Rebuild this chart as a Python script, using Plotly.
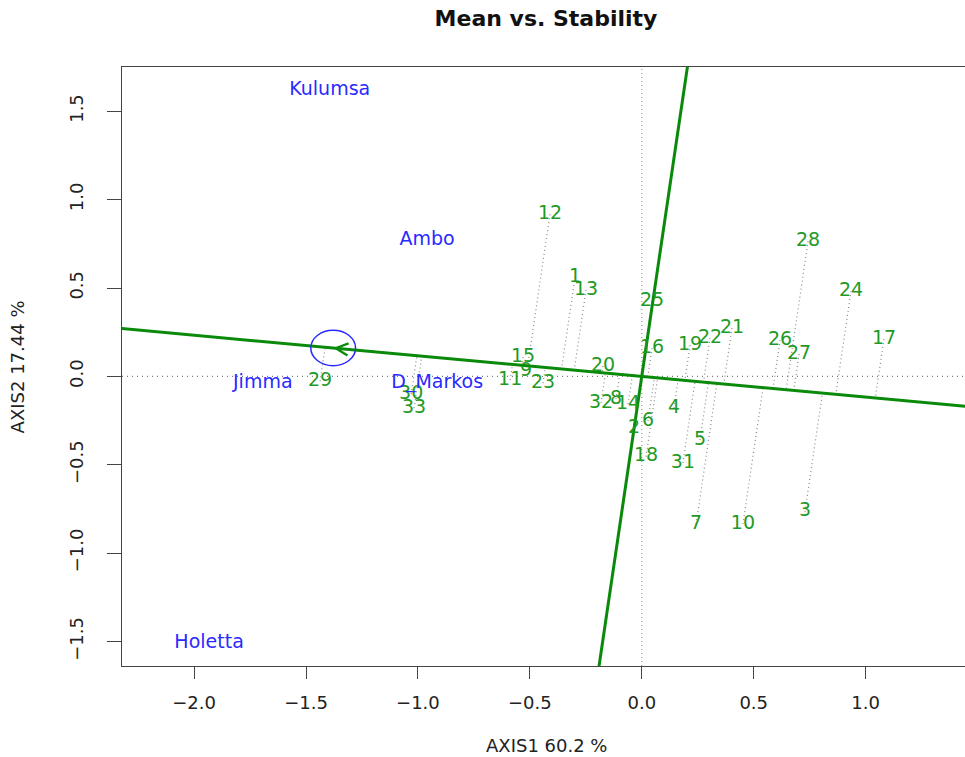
import numpy as np
import plotly.graph_objects as go

# ---------------- data ----------------
genotypes = [str(i) for i in range(1, 34)]
gen_x = [-0.298, -0.034, 0.729, 0.144, 0.260, 0.028, 0.243, -0.115, -0.517, 0.452,
         -0.588, -0.410, -0.249, -0.061, -0.530, 0.046, 1.082, 0.019, 0.216, -0.173,
         0.403, 0.305, -0.441, 0.935, 0.046, 0.618, 0.703, 0.743, -1.437, -1.030,
         0.184, -0.182, -1.017]
gen_y = [0.561, -0.292, -0.765, -0.179, -0.360, -0.252, -0.835, -0.128, 0.030, -0.835,
         -0.021, 0.917, 0.488, -0.157, 0.109, 0.160, 0.211, -0.454, 0.177, 0.058,
         0.273, 0.217, -0.038, 0.482, 0.426, 0.205, 0.126, 0.765, -0.027, -0.100,
         -0.490, -0.151, -0.179]

environments = ["Kulumsa", "Ambo", "Jimma", "D_Markos", "Holetta"]
env_x = [-1.394, -0.959, -1.693, -0.914, -1.933]
env_y = [1.618, 0.770, -0.038, -0.038, -1.509]

x_ticks = [-2.0, -1.5, -1.0, -0.5, 0.0, 0.5, 1.0]
y_ticks = [-1.5, -1.0, -0.5, 0.0, 0.5, 1.0, 1.5]
x_range = [-2.322, 1.444]
y_range = [-1.638, 1.750]

title = "Mean vs. Stability"
x_title = "AXIS1 60.2 %"
y_title = "AXIS2 17.44 %"

# ---------------- derived geometry ----------------
gx = np.array(gen_x)
gy = np.array(gen_y)
aea = np.array([np.mean(env_x), np.mean(env_y)])   # average environment
dd = aea @ aea
t_far = np.array([-20.0, 20.0])
aea_line_x = t_far * aea[0]
aea_line_y = t_far * aea[1]
perp_x = t_far * aea[1]
perp_y = t_far * -aea[0]

proj_t = (gx * aea[0] + gy * aea[1]) / dd
seg_x, seg_y = [], []
for i in range(len(gx)):
    seg_x += [gx[i], proj_t[i] * aea[0], None]
    seg_y += [gy[i], proj_t[i] * aea[1], None]

GREEN_LINE = "#0a8a0a"
GREEN_TXT = "#1f9a26"
BLUE = "#2a2aff"
FONT = "DejaVu Sans"

fig = go.Figure()

# projection (dotted) lines
fig.add_trace(go.Scatter(x=seg_x, y=seg_y, mode="lines",
                         line=dict(color="#8a8a8a", width=1.2, dash="1px,3px"),
                         hoverinfo="skip", showlegend=False))
# average environment axis and its perpendicular
fig.add_trace(go.Scatter(x=aea_line_x, y=aea_line_y, mode="lines",
                         line=dict(color=GREEN_LINE, width=3), showlegend=False))
fig.add_trace(go.Scatter(x=perp_x, y=perp_y, mode="lines",
                         line=dict(color=GREEN_LINE, width=3), showlegend=False))
# genotype labels
fig.add_trace(go.Scatter(x=gen_x, y=gen_y, mode="text", text=genotypes,
                         textposition="middle center",
                         textfont=dict(family=FONT, size=19, color=GREEN_TXT),
                         showlegend=False))
# environment labels
fig.add_trace(go.Scatter(x=env_x, y=env_y, mode="text", text=environments,
                         textposition="middle center",
                         textfont=dict(family=FONT, size=19, color=BLUE),
                         showlegend=False))

# arrow to the average environment
fig.add_annotation(x=aea[0], y=aea[1], ax=0, ay=0, xref="x", yref="y",
                   axref="x", ayref="y", text="", showarrow=True,
                   arrowhead=5, arrowsize=1.6, arrowwidth=1.5,
                   arrowcolor=GREEN_LINE, standoff=0)

r = 0.1
fig.add_shape(type="circle", xref="x", yref="y",
              x0=aea[0] - r, x1=aea[0] + r, y0=aea[1] - r, y1=aea[1] + r,
              line=dict(color=BLUE, width=1.5))

# dotted zero reference lines
fig.add_shape(type="line", xref="x", yref="paper", x0=0, x1=0, y0=0, y1=1,
              line=dict(color="#9a9a9a", width=1.2, dash="1px,3px"), layer="below")
fig.add_shape(type="line", xref="paper", yref="y", x0=0, x1=1, y0=0, y1=0,
              line=dict(color="#7a7a7a", width=1.2, dash="1px,4px"), layer="below")

# axis titles
fig.add_annotation(text=x_title, xref="paper", yref="paper", x=0.503, y=-0.132,
                   showarrow=False, xanchor="center", yanchor="middle",
                   font=dict(family=FONT, size=18, color="#222"))
fig.add_annotation(text=y_title, xref="paper", yref="paper", x=-0.1235, y=0.5,
                   showarrow=False, xanchor="center", yanchor="middle", textangle=-90,
                   font=dict(family=FONT, size=18, color="#222"))

fig.update_layout(
    width=965, height=757,
    margin=dict(l=122, r=0, t=67, b=91),
    paper_bgcolor="white", plot_bgcolor="white",
    title=dict(text="<b>" + title + "</b>", x=0.503, xref="paper", xanchor="center",
               y=1 - 18 / 757, yref="container", yanchor="middle",
               font=dict(family=FONT, size=22, color="#111")),
    showlegend=False,
)
fig.update_xaxes(range=x_range, tickvals=x_ticks, tickformat=".1f",
                 showgrid=False, zeroline=False,
                 showline=True, linecolor="#444", linewidth=1.3, mirror=True,
                 ticks="outside", ticklen=12, tickwidth=1.3, tickcolor="#444",
                 ticklabelstandoff=8,
                 tickfont=dict(family=FONT, size=18, color="#222"))
fig.update_yaxes(range=y_range, tickvals=y_ticks, tickformat=".1f",
                 showgrid=False, zeroline=False,
                 showline=True, linecolor="#444", linewidth=1.3, mirror=False,
                 ticks="outside", ticklen=14, tickwidth=1.3, tickcolor="#444",
                 tickangle=-90, ticklabelstandoff=17,
                 tickfont=dict(family=FONT, size=18, color="#222"))

fig.write_html("out.html", config={"displayModeBar": False},
               post_script="document.body.style.margin='0';"
                           "document.body.style.overflow='hidden';")
